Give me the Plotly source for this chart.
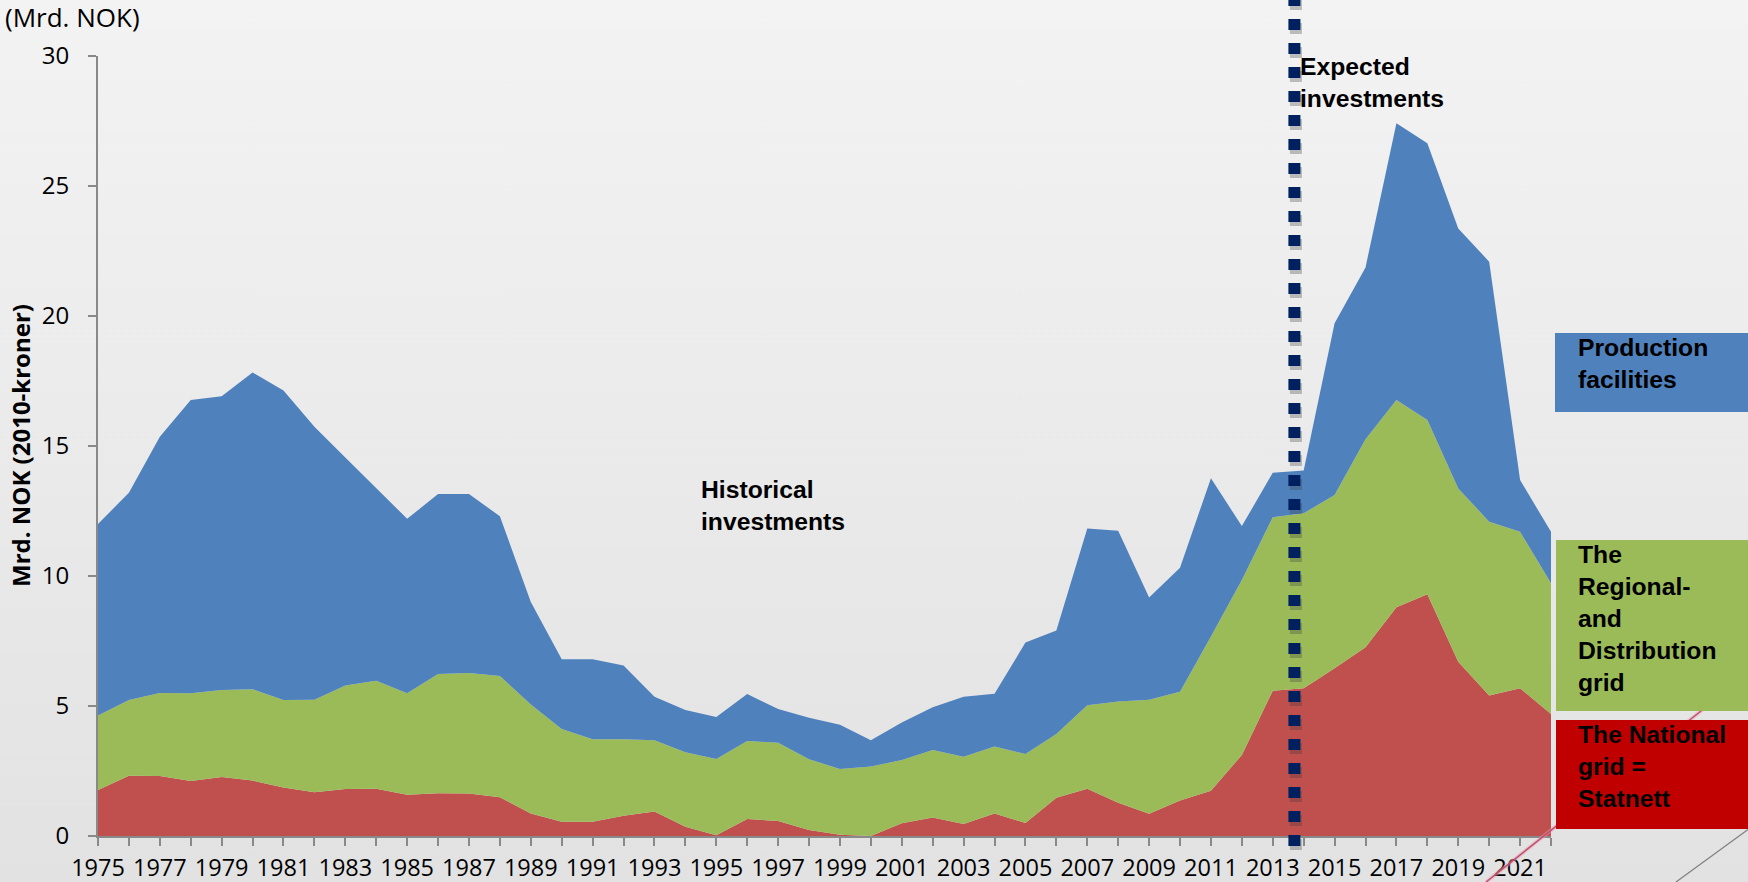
import base64
import plotly.graph_objects as go

# ---------------- data ----------------
years = list(range(1975, 2023))

national_grid = [1.77, 2.32, 2.31, 2.12, 2.27, 2.13, 1.87, 1.68, 1.81, 1.82,
                 1.59, 1.64, 1.63, 1.49, 0.87, 0.55, 0.55, 0.78, 0.94, 0.36,
                 0.03, 0.65, 0.58, 0.23, 0.05, 0.00, 0.49, 0.71, 0.46, 0.87,
                 0.50, 1.47, 1.82, 1.28, 0.86, 1.37, 1.74, 3.12, 5.59, 5.68,
                 6.45, 7.26, 8.80, 9.30, 6.70, 5.40, 5.68, 4.69]

regional_distribution = [2.86, 2.91, 3.19, 3.37, 3.35, 3.51, 3.36, 3.56, 3.98, 4.15,
                         3.90, 4.59, 4.64, 4.66, 4.19, 3.57, 3.17, 2.94, 2.74, 2.86,
                         2.93, 3.00, 3.01, 2.72, 2.53, 2.67, 2.43, 2.60, 2.59, 2.57,
                         2.65, 2.45, 3.21, 3.89, 4.38, 4.18, 5.93, 6.73, 6.67, 6.73,
                         6.67, 8.00, 7.97, 6.70, 6.67, 6.69, 6.02, 5.03]

production = [7.37, 7.97, 9.86, 11.28, 11.29, 12.19, 11.90, 10.50, 8.77, 7.43,
              6.71, 6.92, 6.88, 6.15, 3.94, 2.68, 3.08, 2.84, 1.68, 1.63,
              1.62, 1.81, 1.29, 1.60, 1.70, 1.01, 1.45, 1.64, 2.31, 2.03,
              4.29, 3.98, 6.80, 6.57, 3.93, 4.77, 6.09, 2.07, 1.71, 1.65,
              6.60, 6.61, 10.64, 10.64, 10.00, 10.00, 1.99, 1.98]

tick_labels = [str(y) if (y - 1975) % 2 == 0 else "" for y in years]
y_ticks = [0, 5, 10, 15, 20, 25, 30]
split_year = 2013.7

# ---------------- layout geometry ----------------
FW, FH = 1748, 882
L, R, T, B = 98, 197, 56, 46
PW, PH = FW - L - R, FH - T - B


def px(x):
    return (x - L) / PW


def py(y):
    return (FH - B - y) / PH


BLUE = "#4F81BD"
GREEN = "#9BBB59"
RED = "#C0504D"
AXIS = "#898989"

fig = go.Figure()
for name, vals, col in [("The National grid = Statnett", national_grid, RED),
                        ("The Regional- and Distribution grid", regional_distribution, GREEN),
                        ("Production facilities", production, BLUE)]:
    fig.add_trace(go.Scatter(x=years, y=vals, name=name, mode="lines",
                             stackgroup="one", line=dict(width=0, color=col),
                             fillcolor=col, hoverinfo="x+y+name"))

# background gradient
svg = ('<svg xmlns="http://www.w3.org/2000/svg" width="%d" height="%d" preserveAspectRatio="none">'
       '<defs><linearGradient id="g" x1="0" y1="0" x2="0" y2="1">'
       '<stop offset="0" stop-color="#f3f3f3"/><stop offset="1" stop-color="#e2e2e2"/>'
       '</linearGradient></defs><rect width="%d" height="%d" fill="url(#g)"/></svg>') % (FW, FH, FW, FH)
src = "data:image/svg+xml;base64," + base64.b64encode(svg.encode()).decode()

yr_px = PW / (years[-1] - years[0])

shapes = [
    # shadow of dotted separator
    dict(type="line", xref="x", yref="paper", x0=split_year + 1.5 / yr_px, x1=split_year + 1.5 / yr_px,
         y0=py(-1), y1=py(850), layer="above",
         line=dict(color="rgba(60,60,60,0.30)", width=12, dash="11px,13px")),
    # dotted separator
    dict(type="line", xref="x", yref="paper", x0=split_year, x1=split_year,
         y0=py(-5), y1=py(846), layer="above",
         line=dict(color="#002060", width=12, dash="11px,13px")),
    # decorative diagonal lines
    dict(type="line", xref="paper", yref="paper", x0=px(1486), y0=py(882), x1=px(1706), y1=py(707),
         layer="above", line=dict(color="rgba(235,160,180,0.45)", width=4)),
    dict(type="line", xref="paper", yref="paper", x0=px(1486), y0=py(882), x1=px(1706), y1=py(707),
         layer="above", line=dict(color="#C0506E", width=1.5)),
    dict(type="line", xref="paper", yref="paper", x0=px(1676), y0=py(882), x1=px(1750), y1=py(828),
         layer="above", line=dict(color="#7f7f7f", width=1.2)),
    # legend boxes
    dict(type="rect", xref="paper", yref="paper", x0=px(1555), x1=px(1750), y0=py(333), y1=py(412),
         fillcolor=BLUE, line=dict(width=0), layer="above"),
    dict(type="rect", xref="paper", yref="paper", x0=px(1556), x1=px(1750), y0=py(540), y1=py(711),
         fillcolor=GREEN, line=dict(width=0), layer="above"),
    dict(type="rect", xref="paper", yref="paper", x0=px(1556), x1=px(1750), y0=py(720), y1=py(829),
         fillcolor="#C00000", line=dict(width=0), layer="above"),
]

bold_font = dict(family="Liberation Sans, Arial", size=24.7, color="black")
annotations = [
    dict(xref="paper", yref="paper", x=px(1576), y=py(332), xanchor="left", yanchor="top",
         text="<b>Production<br>facilities</b>", align="left", showarrow=False, font=bold_font),
    dict(xref="paper", yref="paper", x=px(1576), y=py(539), xanchor="left", yanchor="top",
         text="<b>The<br>Regional-<br>and<br>Distribution<br>grid</b>", align="left",
         showarrow=False, font=bold_font),
    dict(xref="paper", yref="paper", x=px(1576), y=py(719), xanchor="left", yanchor="top",
         text="<b>The National<br>grid =<br>Statnett</b>", align="left", showarrow=False, font=bold_font),
    dict(xref="x", yref="paper", x=1994.45, y=py(474), xanchor="left", yanchor="top",
         text="<b>Historical<br>investments</b>", align="left", showarrow=False, font=bold_font),
    dict(xref="x", yref="paper", x=2013.8, y=py(51), xanchor="left", yanchor="top",
         text="<b>Expected<br>investments</b>", align="left", showarrow=False, font=bold_font),
    dict(xref="paper", yref="paper", x=px(3), y=py(-3), xanchor="left", yanchor="top",
         text="(Mrd. NOK)", showarrow=False,
         font=dict(family="Open Sans", size=26, color="black")),
    dict(xref="paper", yref="paper", x=px(20), y=0.5, xanchor="center", yanchor="middle",
         text="<b>Mrd. NOK (2010-kroner)</b>", textangle=-90, showarrow=False,
         font=dict(family="Open Sans", size=24, color="black")),
]

fig.update_layout(
    width=FW, height=FH,
    margin=dict(l=L, r=R, t=T, b=B, pad=0, autoexpand=False),
    paper_bgcolor="#ebebeb",
    plot_bgcolor="rgba(0,0,0,0)",
    showlegend=False,
    images=[dict(source=src, xref="paper", yref="paper", x=px(0), y=py(0),
                 sizex=FW / PW, sizey=FH / PH, sizing="stretch",
                 xanchor="left", yanchor="top", layer="below")],
    shapes=shapes,
    annotations=annotations,
    xaxis=dict(range=[years[0], years[-1]], tickmode="array", tickvals=years, ticktext=tick_labels,
               ticks="outside", ticklen=8, tickwidth=2, tickcolor=AXIS, automargin=False,
               showline=True, linecolor=AXIS, linewidth=2, showgrid=False, zeroline=False,
               ticklabelstandoff=2,
               tickfont=dict(family="Open Sans", size=23.5, color="black"), tickangle=0),
    yaxis=dict(range=[0, 30], tickmode="array", tickvals=y_ticks, automargin=False,
               ticks="outside", ticklen=8, tickwidth=2, tickcolor=AXIS,
               showline=True, linecolor=AXIS, linewidth=2, showgrid=False, zeroline=False,
               ticklabelstandoff=14,
               tickfont=dict(family="Open Sans", size=24, color="black")),
)

fig.write_html("out.html", config={"displayModeBar": False},
               post_script="document.body.style.margin='0';document.body.style.overflow='hidden';")
